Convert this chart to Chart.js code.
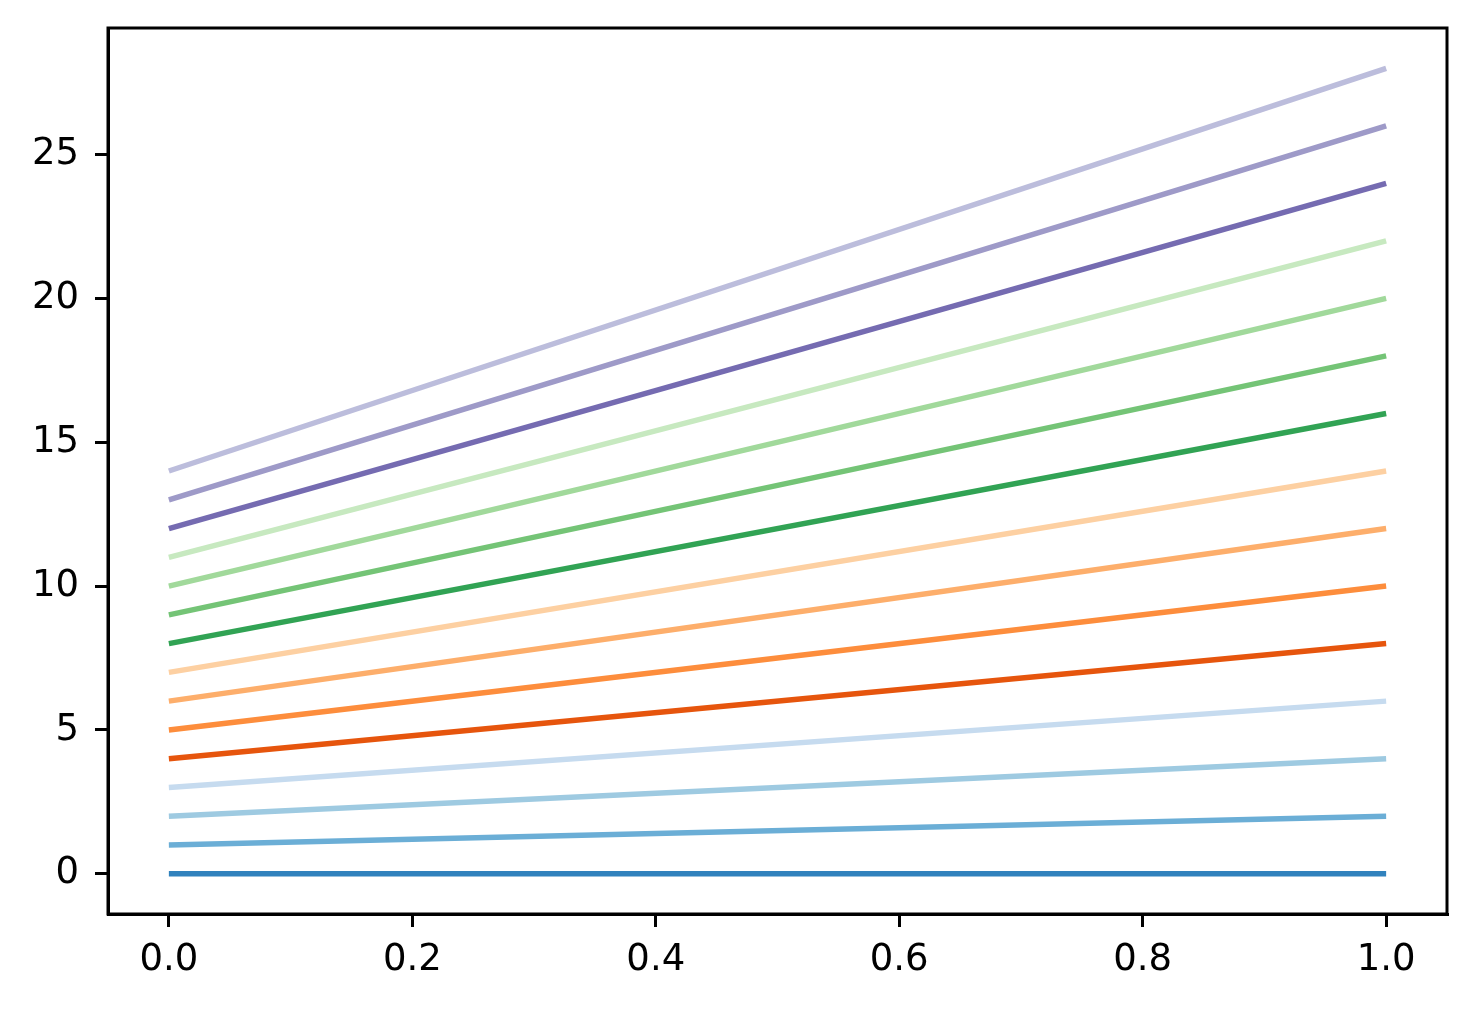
<!DOCTYPE html>
<html>
<head>
<meta charset="utf-8">
<script src="https://cdn.jsdelivr.net/npm/chart.js@4"></script>
<style>
  html, body { margin: 0; padding: 0; background: #fff; }
  #wrap { width: 1475px; height: 1012px; }
</style>
</head>
<body>
<div id="wrap"><canvas id="lines" width="1475" height="1012"></canvas></div>
<script>
// Line i goes from y = i at x = 0 to y = 2i at x = 1
const xStart = 0;
const xEnd = 1;
const startValues = [0, 1, 2, 3, 4, 5, 6, 7, 8, 9, 10, 11, 12, 13, 14];
const endValues = [0, 2, 4, 6, 8, 10, 12, 14, 16, 18, 20, 22, 24, 26, 28];
const lineColors = ['#3182bd', '#6baed6', '#9ecae1', '#c6dbef', '#e6550d', '#fd8d3c', '#fdae6b', '#fdd0a2',
                    '#31a354', '#74c476', '#a1d99b', '#c7e9c0', '#756bb1', '#9e9ac8', '#bcbddc'];
const xTicks = [0, 0.2, 0.4, 0.6, 0.8, 1.0];
const yTicks = [0, 5, 10, 15, 20, 25];

const frame = {
    id: 'frame',
    afterDraw(chart) {
        const a = chart.chartArea;
        const ctx = chart.ctx;
        ctx.save();
        ctx.strokeStyle = '#000';
        ctx.lineWidth = 3;
        ctx.strokeRect(a.left, a.top, a.right - a.left, a.bottom - a.top);
        ctx.restore();
    }
};

const tickFont = { family: 'DejaVu Sans', size: 37 };

new Chart(document.getElementById('lines'), {
    type: 'line',
    data: {
        datasets: startValues.map((s, i) => ({
            data: [{ x: xStart, y: s }, { x: xEnd, y: endValues[i] }],
            borderColor: lineColors[i],
            borderWidth: 5.5,
            pointRadius: 0,
            fill: false
        }))
    },
    options: {
        responsive: false,
        animation: false,
        devicePixelRatio: 1,
        layout: { padding: { left: 0, top: 28, right: 28, bottom: 0 } },
        plugins: { legend: { display: false }, tooltip: { enabled: false } },
        scales: {
            x: {
                type: 'linear',
                min: -0.05,
                max: 1.05,
                afterBuildTicks: axis => { axis.ticks = xTicks.map(v => ({ value: v })); },
                afterFit: axis => { axis.height = 98; axis.paddingLeft = 0; axis.paddingRight = 0; },
                ticks: { color: '#000', font: tickFont, padding: 11, maxRotation: 0,
                         callback: v => v.toFixed(1) },
                grid: { drawOnChartArea: false, drawTicks: true, tickLength: 13, color: '#000', lineWidth: 3 },
                border: { display: true, color: '#000', width: 3 }
            },
            y: {
                type: 'linear',
                min: -1.4,
                max: 29.4,
                afterBuildTicks: axis => { axis.ticks = yTicks.map(v => ({ value: v })); },
                afterFit: axis => { axis.width = 108; axis.paddingTop = 0; axis.paddingBottom = 0; },
                ticks: { color: '#000', font: tickFont, padding: 16 },
                grid: { drawOnChartArea: false, drawTicks: true, tickLength: 13, color: '#000', lineWidth: 3 },
                border: { display: true, color: '#000', width: 3 }
            }
        }
    },
    plugins: [frame]
});
</script>
</body>
</html>
